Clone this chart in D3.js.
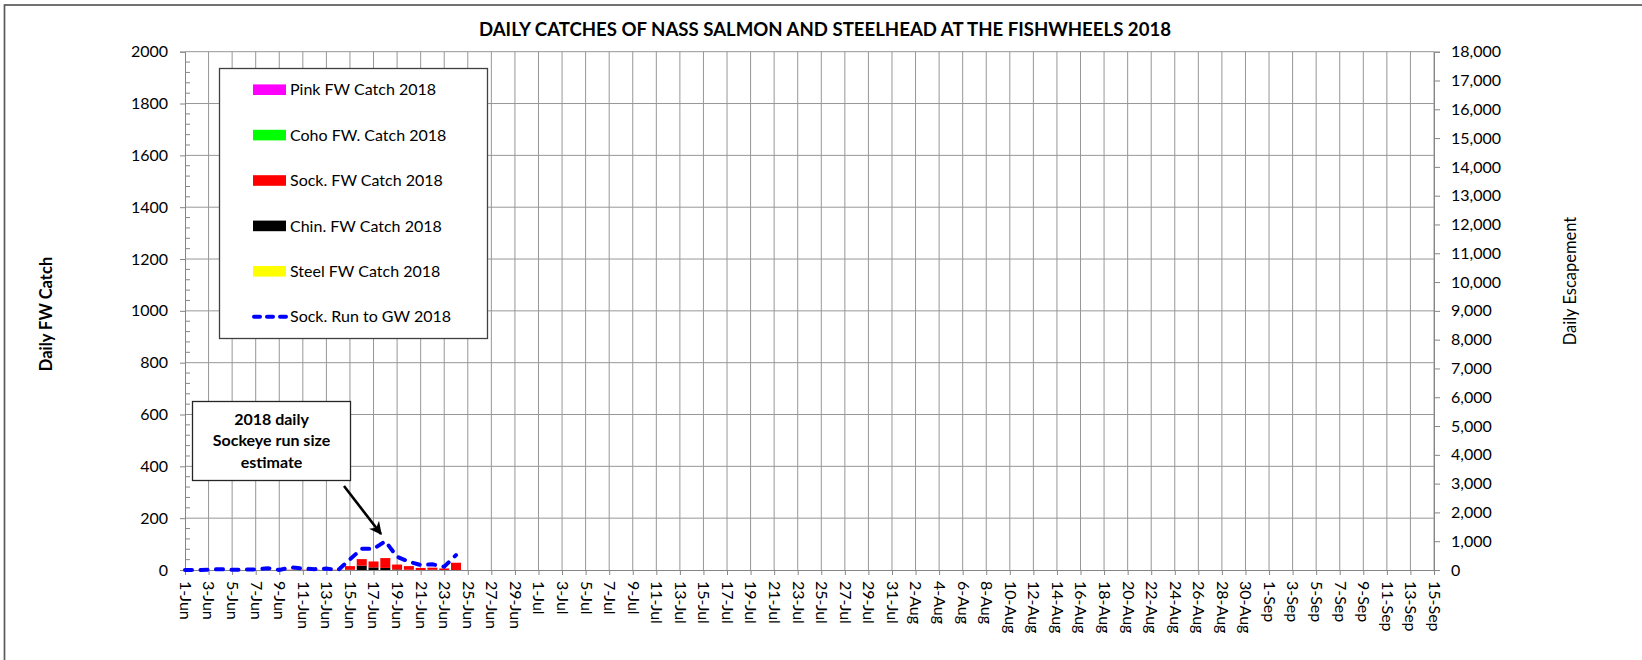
<!DOCTYPE html>
<html>
<head>
<meta charset="utf-8">
<script src="https://cdn.jsdelivr.net/npm/d3@7"></script>
<style>
body { margin: 0; background: #fff; }
svg { display: block; font-family: Lato, "Open Sans", sans-serif; }
</style>
</head>
<body>
<svg id="chart" width="1642" height="660"></svg>
<script>
// days of June 2018 that have data
var CATCH_DAYS = [1, 2, 3, 4, 5, 6, 7, 8, 9, 10, 11, 12, 13, 14, 15, 16, 17, 18, 19, 20, 21, 22, 23, 24];

// fishwheel catches per day
var STEEL_CATCH = [0, 0, 0, 0, 0, 0, 0, 0, 0, 0, 0, 0, 0, 0, 0, 0, 0, 0, 0, 0, 0, 0, 0, 0];
var CHIN_CATCH  = [0, 0, 0, 0, 0, 0, 0, 0, 0, 0, 0, 0, 0, 0, 1, 17, 10, 8, 2, 1, 0, 1, 0, 0];
var SOCK_CATCH  = [0, 0, 0, 0, 0, 0, 0, 0, 0, 1, 1, 1, 1, 1, 14, 25, 23, 38, 19, 14, 8, 8, 6, 28];
var COHO_CATCH  = [0, 0, 0, 0, 0, 0, 0, 0, 0, 0, 0, 0, 0, 0, 0, 0, 0, 0, 0, 0, 0, 0, 0, 0];
var PINK_CATCH  = [0, 0, 0, 0, 0, 0, 0, 0, 0, 0, 0, 0, 0, 0, 0, 0, 0, 0, 0, 0, 0, 0, 0, 0];

// daily sockeye run to Gitwinksihlkw (right axis)
var SOCK_RUN = [0, 0, 10, 30, 5, 15, 20, 60, 5, 90, 50, 30, 50, 0, 370, 740, 730, 1000, 461, 288, 173, 196, 115, 519];

var LEFT_TICKS = [0, 200, 400, 600, 800, 1000, 1200, 1400, 1600, 1800, 2000];
var RIGHT_TICKS = [0, 1000, 2000, 3000, 4000, 5000, 6000, 7000, 8000, 9000, 10000, 11000, 12000, 13000, 14000, 15000, 16000, 17000, 18000];
var AXIS_START = "2018-06-01";
var AXIS_END = "2018-09-15";

var TITLE = "DAILY CATCHES OF NASS SALMON AND STEELHEAD AT THE FISHWHEELS 2018";

// stacking order, bottom first
var SERIES = [
	{ key: "steel", name: "Steel FW Catch 2018", color: "#ffff00", values: STEEL_CATCH },
	{ key: "chin",  name: "Chin. FW Catch 2018", color: "#000000", values: CHIN_CATCH },
	{ key: "sock",  name: "Sock. FW Catch 2018", color: "#ff0000", values: SOCK_CATCH },
	{ key: "coho",  name: "Coho FW. Catch 2018", color: "#00ff00", values: COHO_CATCH },
	{ key: "pink",  name: "Pink FW Catch 2018",  color: "#ff00ff", values: PINK_CATCH }
];
var RUN_NAME = "Sock. Run to GW 2018";
var RUN_COLOR = "#0000ff";

var PLOT_L = 185, PLOT_R = 1434, PLOT_T = 51.7, PLOT_B = 570;
var GRID_COLOR = "#979797";
var AXIS_COLOR = "#868686";

var svg = d3.select("#chart");
var parse = d3.utcParse("%Y-%m-%d");
var fmtDay = d3.utcFormat("%-d-%b");

var x = d3.scaleUtc()
	.domain([parse(AXIS_START), parse(AXIS_END)])
	.range([PLOT_L, PLOT_R]);
var yL = d3.scaleLinear().domain([0, 2000]).range([PLOT_B, PLOT_T]);
var yR = d3.scaleLinear().domain([0, 18000]).range([PLOT_B, PLOT_T]);

var dayW = x(d3.utcDay.offset(parse(AXIS_START), 1)) - x(parse(AXIS_START));
var tickDates = d3.utcDay.range(parse(AXIS_START), d3.utcDay.offset(parse(AXIS_END), 1), 2);

// chart area border (runs off the right and bottom of the picture)
svg.append("rect")
	.attr("x", 4.5).attr("y", 5)
	.attr("width", 1700).attr("height", 700)
	.style("fill", "none")
	.style("stroke", "#5a5a5a")
	.style("stroke-width", 1.7);

// title
svg.append("text")
	.attr("x", 825).attr("y", 36)
	.attr("text-anchor", "middle")
	.style("font-weight", "bold")
	.style("font-size", "18.6px")
	.text(TITLE);

// gridlines
var grid = svg.append("g");
grid.selectAll("line.h")
	.data(LEFT_TICKS.slice(1))
	.enter().append("line")
	.attr("x1", PLOT_L).attr("x2", PLOT_R)
	.attr("y1", function(d) { return yL(d); })
	.attr("y2", function(d) { return yL(d); })
	.style("stroke", GRID_COLOR);
grid.selectAll("line.v")
	.data(tickDates.slice(1))
	.enter().append("line")
	.attr("x1", function(d) { return x(d); })
	.attr("x2", function(d) { return x(d); })
	.attr("y1", PLOT_T).attr("y2", PLOT_B)
	.style("stroke", GRID_COLOR);

// stacked catch bars
var rows = CATCH_DAYS.map(function(day, i) {
	var row = { date: d3.utcDay.offset(parse(AXIS_START), day - 1) };
	SERIES.forEach(function(s) { row[s.key] = s.values[i]; });
	return row;
});
var stacked = d3.stack().keys(SERIES.map(function(s) { return s.key; }))(rows);
var barW = dayW * 0.85;

svg.append("g").selectAll("g")
	.data(stacked)
	.enter().append("g")
	.style("fill", function(d, i) { return SERIES[i].color; })
	.selectAll("rect")
	.data(function(d) { return d; })
	.enter().append("rect")
	.attr("x", function(d) { return x(d.data.date) - barW / 2; })
	.attr("width", barW)
	.attr("y", function(d) { return yL(d[1]); })
	.attr("height", function(d) { return yL(d[0]) - yL(d[1]); });

// axes
var leftAxis = svg.append("g")
	.attr("transform", "translate(" + PLOT_L + ",0)")
	.call(d3.axisLeft(yL).tickValues(LEFT_TICKS).tickSize(5).tickPadding(12).tickFormat(d3.format("d")));

// minor ticks on the left axis point inwards
var minor = d3.range(0, 2000, 40).filter(function(v) { return v % 200 !== 0; });
svg.append("g").selectAll("line")
	.data(minor)
	.enter().append("line")
	.attr("x1", PLOT_L).attr("x2", PLOT_L + 5)
	.attr("y1", function(d) { return yL(d); })
	.attr("y2", function(d) { return yL(d); })
	.style("stroke", AXIS_COLOR);

var rightAxis = svg.append("g")
	.attr("transform", "translate(" + PLOT_R + ",0)")
	.call(d3.axisRight(yR).tickValues(RIGHT_TICKS).tickSize(6).tickPadding(11).tickFormat(d3.format(",")));

var bottomAxis = svg.append("g")
	.attr("transform", "translate(0," + PLOT_B + ")")
	.call(d3.axisBottom(x).tickValues(tickDates).tickSize(5).tickFormat(fmtDay));

bottomAxis.selectAll("text")
	.attr("text-anchor", "start")
	.attr("transform", "rotate(90)")
	.attr("x", 11)
	.attr("y", 0)
	.attr("dy", "0.35em");

[leftAxis, rightAxis, bottomAxis].forEach(function(a) {
	a.selectAll(".domain, .tick line").style("stroke", AXIS_COLOR);
	a.selectAll("text")
		.style("font-family", "Lato, sans-serif")
		.style("font-size", "16px")
		.style("fill", "#000");
});

// sockeye run line
var runPts = CATCH_DAYS.map(function(day, i) {
	return { date: d3.utcDay.offset(parse(AXIS_START), day - 1), v: SOCK_RUN[i] };
});
svg.append("path")
	.datum(runPts)
	.attr("d", d3.line()
		.x(function(d) { return x(d.date); })
		.y(function(d) { return yR(d.v); }))
	.style("fill", "none")
	.style("stroke", RUN_COLOR)
	.style("stroke-width", 4)
	.style("stroke-linecap", "round")
	.style("stroke-dasharray", "7,8.5");

// axis titles
svg.append("text")
	.attr("transform", "translate(52,314) rotate(-90)")
	.attr("text-anchor", "middle")
	.style("font-weight", "bold")
	.style("font-size", "16.5px")
	.text("Daily FW Catch");
svg.append("text")
	.attr("transform", "translate(1576,281) rotate(-90)")
	.attr("text-anchor", "middle")
	.style("font-size", "16.5px")
	.text("Daily Escapement");

// legend
var legend = svg.append("g");
legend.append("rect")
	.attr("x", 219.5).attr("y", 68.5)
	.attr("width", 268).attr("height", 270)
	.style("fill", "#fff")
	.style("stroke", "#404040")
	.style("stroke-width", 1.3);

var legendItems = SERIES.slice().reverse().concat([{ name: RUN_NAME, color: RUN_COLOR, line: true }]);
var legRows = legend.selectAll("g.item")
	.data(legendItems)
	.enter().append("g")
	.attr("class", "item")
	.attr("transform", function(d, i) { return "translate(0," + (89.7 + i * 45.4) + ")"; });

legRows.filter(function(d) { return !d.line; })
	.append("rect")
	.attr("x", 253).attr("y", -5.3)
	.attr("width", 33).attr("height", 10.6)
	.style("fill", function(d) { return d.color; });
legRows.filter(function(d) { return d.line; })
	.append("line")
	.attr("x1", 254).attr("x2", 286)
	.style("stroke", function(d) { return d.color; })
	.style("stroke-width", 4)
	.style("stroke-linecap", "round")
	.style("stroke-dasharray", "6,7");
legRows.append("text")
	.attr("x", 290).attr("y", 0)
	.attr("dy", "0.36em")
	.style("font-size", "16px")
	.text(function(d) { return d.name; });

// annotation
var ann = svg.append("g");
ann.append("rect")
	.attr("x", 192.5).attr("y", 401.5)
	.attr("width", 158).attr("height", 79)
	.style("fill", "#fff")
	.style("stroke", "#262626")
	.style("stroke-width", 1.3);
ann.selectAll("text")
	.data(["2018 daily", "Sockeye run size", "estimate"])
	.enter().append("text")
	.attr("x", 271.5)
	.attr("y", function(d, i) { return 425 + i * 21.3; })
	.attr("text-anchor", "middle")
	.style("font-weight", "bold")
	.style("font-size", "16px")
	.text(function(d) { return d; });

svg.append("defs").append("marker")
	.attr("id", "arrowHead")
	.attr("viewBox", "0 0 10 10")
	.attr("refX", 9).attr("refY", 5)
	.attr("markerWidth", 5).attr("markerHeight", 5)
	.attr("orient", "auto")
	.append("path")
	.attr("d", "M0,0 L10,5 L0,10 L3,5 Z")
	.style("fill", "#000");

ann.append("line")
	.attr("x1", 344).attr("y1", 486)
	.attr("x2", 381).attr("y2", 534)
	.style("stroke", "#000")
	.style("stroke-width", 2.6)
	.attr("marker-end", "url(#arrowHead)");
</script>
</body>
</html>
